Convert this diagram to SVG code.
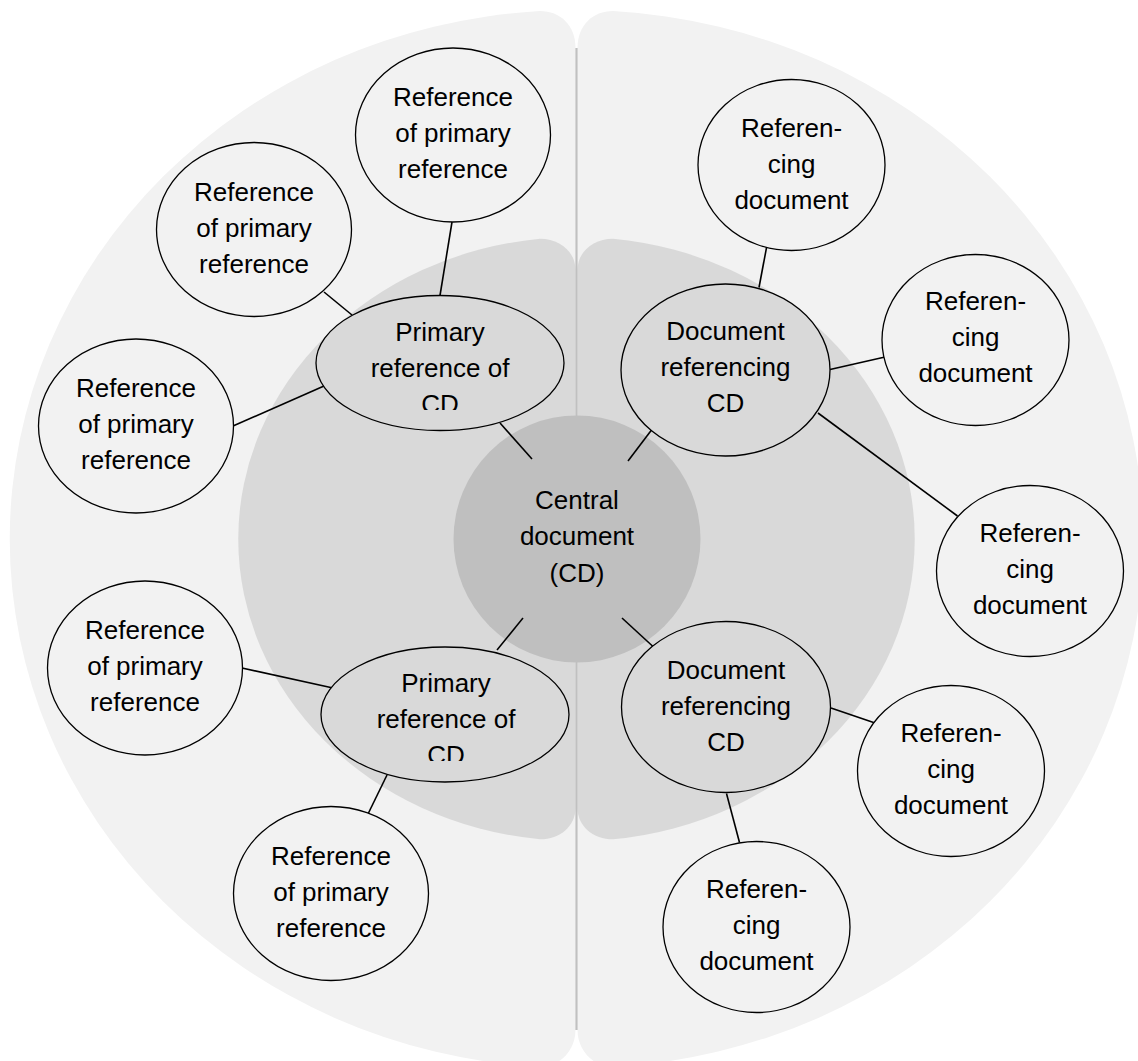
<svg xmlns="http://www.w3.org/2000/svg" width="1138" height="1061" viewBox="0 0 1138 1061">
<style>
text{font-family:"Liberation Sans",Arial,sans-serif;font-size:26px;fill:#000;text-anchor:middle}
.outer{fill:#f2f2f2}
.inner{fill:#d9d9d9}
.n1{fill:#f2f2f2;stroke:#000;stroke-width:1.3}
.n2{fill:#d9d9d9;stroke:#000;stroke-width:1.3}
.c{stroke:#000;stroke-width:1.6;fill:none}
</style>
<defs>
<clipPath id="clipPR1"><rect x="300" y="280" width="280" height="130"/></clipPath>
<clipPath id="clipPR2"><rect x="300" y="630" width="280" height="131"/></clipPath>
</defs>
<rect width="1138" height="1061" fill="#fff"/>
<g id="background">
<path class="outer" d="M575.5,48 L575.5,1030 C575.5,1050 560,1067 540,1067 A565 529 0 0 1 540,11 C560,11 575.5,25 575.5,48 Z"/>
<path class="outer" d="M577.5,48 L577.5,1030 C577.5,1050 593,1067 613,1067 A565 529 0 0 0 613,11 C593,11 577.5,25 577.5,48 Z"/>
<path class="inner" d="M575.5,270 L575.5,808 C575.5,826 560,839.3 540,839.3 A337.5 302 0 0 1 540,238.7 C560,238.7 575.5,252 575.5,270 Z"/>
<path class="inner" d="M577.5,270 L577.5,808 C577.5,826 593,839.3 613,839.3 A337.5 302 0 0 0 613,238.7 C593,238.7 577.5,252 577.5,270 Z"/>
<line x1="576.5" y1="48" x2="576.5" y2="1030" stroke="#c0c0c0" stroke-width="2.2"/>
</g>
<g id="central">
<circle cx="577" cy="539" r="123.5" fill="#bfbfbf"/>
<text x="577" y="508.5">Central</text>
<text x="577" y="545">document</text>
<text x="577" y="581.5">(CD)</text>
</g>
<g id="connectors">
<line class="c" x1="452" y1="222" x2="440" y2="295.5"/>
<line class="c" x1="324" y1="292" x2="352" y2="315"/>
<line class="c" x1="233" y1="426" x2="324" y2="386"/>
<line class="c" x1="500" y1="423" x2="532" y2="459"/>
<line class="c" x1="523" y1="618" x2="497" y2="650"/>
<line class="c" x1="242" y1="668" x2="333" y2="688"/>
<line class="c" x1="387" y1="775" x2="368" y2="814"/>
<line class="c" x1="651.5" y1="430" x2="628" y2="461"/>
<line class="c" x1="622" y1="618" x2="653" y2="646.5"/>
<line class="c" x1="767" y1="245" x2="759" y2="287.5"/>
<line class="c" x1="830" y1="369.5" x2="885" y2="357"/>
<line class="c" x1="818" y1="413" x2="957.5" y2="516"/>
<line class="c" x1="831" y1="708" x2="875" y2="723"/>
<line class="c" x1="726.5" y1="793.5" x2="739.5" y2="842.5"/>
</g>
<g id="pr1">
<ellipse class="n2" cx="440" cy="363" rx="124" ry="67.5"/>
<g clip-path="url(#clipPR1)"><text x="440" y="341">Primary</text><text x="440" y="377">reference of</text><text x="440" y="413">CD</text></g>
</g>
<g id="pr2">
<ellipse class="n2" cx="445" cy="714.5" rx="124" ry="67.5"/>
<g clip-path="url(#clipPR2)"><text x="446" y="692">Primary</text><text x="446" y="728">reference of</text><text x="446" y="764">CD</text></g>
</g>
<g id="rp1">
<ellipse class="n1" cx="453" cy="135" rx="97.5" ry="87"/>
<text x="453" y="106">Reference</text><text x="453" y="142">of primary</text><text x="453" y="178">reference</text>
</g>
<g id="rp2">
<ellipse class="n1" cx="254" cy="229.5" rx="97.5" ry="87"/>
<text x="254" y="201">Reference</text><text x="254" y="237">of primary</text><text x="254" y="273">reference</text>
</g>
<g id="rp3">
<ellipse class="n1" cx="136" cy="426" rx="97.5" ry="87"/>
<text x="136" y="397">Reference</text><text x="136" y="433">of primary</text><text x="136" y="469">reference</text>
</g>
<g id="rp4">
<ellipse class="n1" cx="145" cy="668" rx="97.5" ry="87"/>
<text x="145" y="639">Reference</text><text x="145" y="675">of primary</text><text x="145" y="711">reference</text>
</g>
<g id="rp5">
<ellipse class="n1" cx="331" cy="893.5" rx="97.5" ry="87"/>
<text x="331" y="865">Reference</text><text x="331" y="901">of primary</text><text x="331" y="937">reference</text>
</g>
<g id="dr1">
<ellipse class="n2" cx="725.5" cy="370" rx="104.5" ry="86"/>
<text x="725.5" y="340">Document</text><text x="725.5" y="376">referencing</text><text x="725.5" y="412">CD</text>
</g>
<g id="dr2">
<ellipse class="n2" cx="726" cy="707" rx="104.5" ry="85.5"/>
<text x="726" y="678.5">Document</text><text x="726" y="714.5">referencing</text><text x="726" y="750.5">CD</text>
</g>
<g id="rd1">
<ellipse class="n1" cx="791.5" cy="165" rx="93.5" ry="85.5"/>
<text x="791.5" y="136.5">Referen-</text><text x="791.5" y="172.5">cing</text><text x="791.5" y="208.5">document</text>
</g>
<g id="rd2">
<ellipse class="n1" cx="975.5" cy="340" rx="93.5" ry="85.5"/>
<text x="975.5" y="310">Referen-</text><text x="975.5" y="346">cing</text><text x="975.5" y="382">document</text>
</g>
<g id="rd3">
<ellipse class="n1" cx="1030" cy="571" rx="93.5" ry="85.5"/>
<text x="1030" y="541.5">Referen-</text><text x="1030" y="577.5">cing</text><text x="1030" y="613.5">document</text>
</g>
<g id="rd4">
<ellipse class="n1" cx="951" cy="771" rx="93.5" ry="85.5"/>
<text x="951" y="741.5">Referen-</text><text x="951" y="777.5">cing</text><text x="951" y="813.5">document</text>
</g>
<g id="rd5">
<ellipse class="n1" cx="756.5" cy="927" rx="93.5" ry="85.5"/>
<text x="756.5" y="898">Referen-</text><text x="756.5" y="934">cing</text><text x="756.5" y="970">document</text>
</g>
</svg>
